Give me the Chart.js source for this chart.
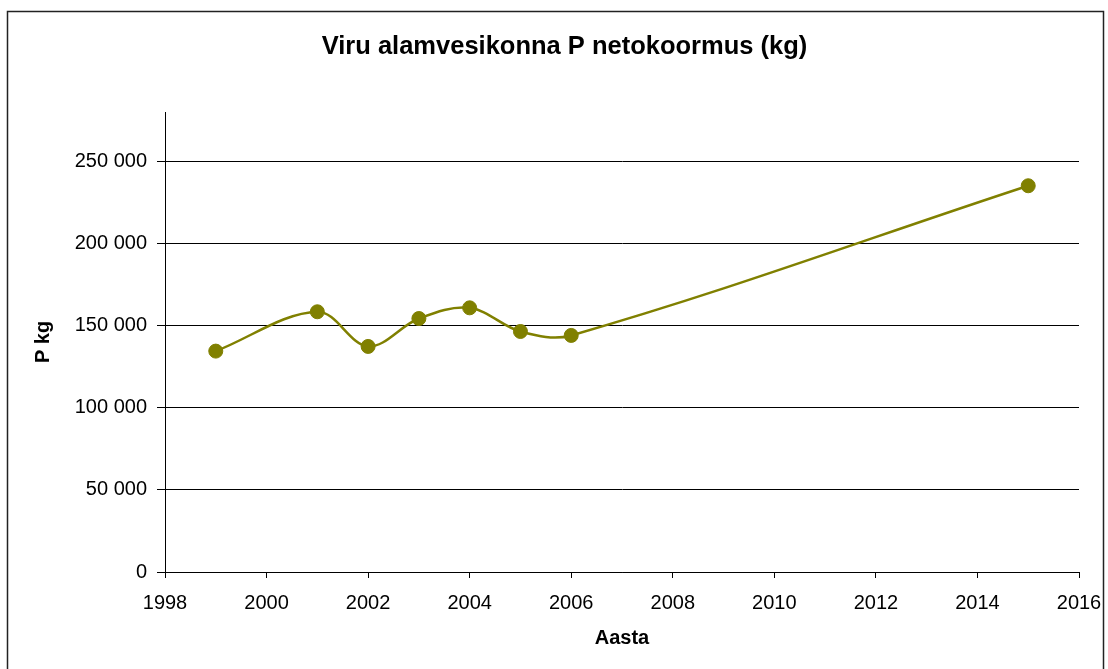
<!DOCTYPE html>
<html>
<head>
<meta charset="utf-8">
<script src="https://cdn.jsdelivr.net/npm/chart.js@4/dist/chart.umd.min.js"></script>
<style>
  html, body { margin: 0; padding: 0; background: #fff; }
  #wrap { width: 1108px; height: 669px; }
</style>
</head>
<body>
<div id="wrap"><canvas id="c" width="1108" height="669"></canvas></div>
<script>
const years = [1999, 2001, 2002, 2003, 2004, 2005, 2006, 2015];
const loadKg = [134450, 158400, 137300, 154300, 160800, 146400, 144000, 235100];
const xTickYears = [1998, 2000, 2002, 2004, 2006, 2008, 2010, 2012, 2014, 2016];
const yTickValues = [0, 50000, 100000, 150000, 200000, 250000];

const titleText = 'Viru alamvesikonna P netokoormus (kg)';
const xTitle = 'Aasta';
const yTitle = 'P kg';
const FONT = 'Arial, "Liberation Sans", sans-serif';
const OLIVE = '#808000';

function fmt(v) {
  return String(v).replace(/\B(?=(\d{3})+(?!\d))/g, ' ');
}

const frame = {
  id: 'frame',
  afterLayout(chart) {
    if (chart.titleBlock) {
      chart.titleBlock.left = 50;
      chart.titleBlock.right = 1079;
    }
  },
  beforeDraw(chart) {
    const ctx = chart.ctx;
    ctx.save();
    ctx.fillStyle = '#fff';
    ctx.fillRect(0, 0, chart.width, chart.height);
    ctx.strokeStyle = '#222';
    ctx.lineWidth = 1.5;
    ctx.strokeRect(7.5, 11.5, 1096, 700);
    ctx.restore();
  }
};

new Chart(document.getElementById('c'), {
  type: 'line',
  data: {
    datasets: [{
      data: years.map((y, i) => ({ x: y, y: loadKg[i] })),
      borderColor: OLIVE,
      backgroundColor: OLIVE,
      borderWidth: 2.5,
      pointRadius: 7,
      pointBorderWidth: 1,
      pointBackgroundColor: OLIVE,
      pointBorderColor: OLIVE,
      tension: 0.35,
      fill: false
    }]
  },
  options: {
    responsive: false,
    animation: false,
    layout: { padding: { left: 0, right: 29, top: 0, bottom: 0 } },
    plugins: {
      legend: { display: false },
      tooltip: { enabled: false },
      title: {
        display: true,
        text: titleText,
        color: '#000',
        font: { family: FONT, size: 25.5, weight: 'bold' },
        padding: { top: 32, bottom: 49.4 }
      }
    },
    scales: {
      x: {
        type: 'linear',
        min: xTickYears[0],
        max: xTickYears[xTickYears.length - 1],
        afterBuildTicks: (s) => { s.ticks = xTickYears.map(v => ({ value: v })); },
        afterFit: (s) => { s.height = 97; s.paddingLeft = 0; s.paddingRight = 0; },
        ticks: {
          color: '#000',
          font: { family: FONT, size: 20 },
          padding: 13,
          maxRotation: 0,
          autoSkip: false,
          callback: (v) => String(v)
        },
        grid: {
          drawOnChartArea: false,
          drawTicks: true,
          tickLength: 6,
          color: '#000',
          lineWidth: 1
        },
        border: { display: true, color: '#000', width: 1 },
        title: {
          display: true,
          text: xTitle,
          color: '#000',
          font: { family: FONT, size: 20, weight: 'bold' },
          padding: { top: 0, bottom: 19 }
        }
      },
      y: {
        type: 'linear',
        min: 0,
        max: 280000,
        afterBuildTicks: (s) => { s.ticks = yTickValues.map(v => ({ value: v })); },
        afterFit: (s) => { s.width = 165; s.paddingTop = 0; s.paddingBottom = 0; },
        ticks: {
          color: '#000',
          font: { family: FONT, size: 20 },
          padding: 10,
          autoSkip: false,
          callback: (v) => fmt(v)
        },
        grid: {
          drawOnChartArea: true,
          drawTicks: true,
          tickLength: 8,
          color: '#000',
          lineWidth: 1
        },
        border: { display: true, color: '#000', width: 1 },
        title: {
          display: true,
          text: yTitle,
          color: '#000',
          font: { family: FONT, size: 20, weight: 'bold' },
          padding: { top: 31, bottom: 0 }
        }
      }
    }
  },
  plugins: [frame]
});
</script>
</body>
</html>
